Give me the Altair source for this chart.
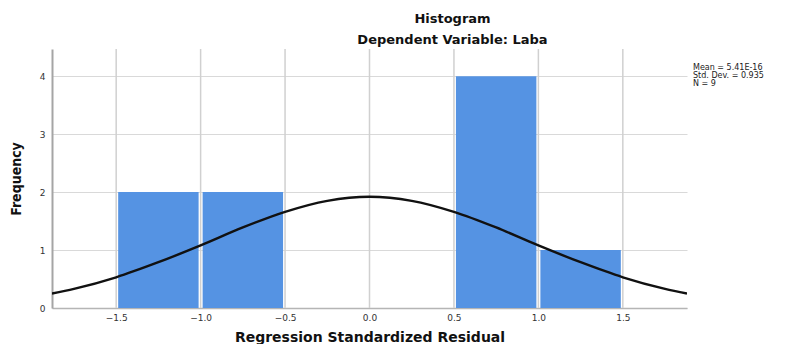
import altair as alt
import pandas as pd

# Histogram bins
bin_start = [-1.5, -1.0, -0.5, 0.0, 0.5, 1.0]
bin_end = [-1.0, -0.5, 0.0, 0.5, 1.0, 1.5]
freq = [2, 2, 0, 0, 4, 1]

# Normal curve points
curve_x = [-1.88, -1.75, -1.5, -1.25, -1.0, -0.75, -0.5, -0.25, 0.0,
           0.25, 0.5, 0.75, 1.0, 1.25, 1.5, 1.75, 1.88]
curve_y = [0.25, 0.33, 0.53, 0.79, 1.08, 1.39, 1.66, 1.85, 1.92,
           1.85, 1.66, 1.39, 1.08, 0.79, 0.53, 0.33, 0.25]

x_ticks = [-1.5, -1.0, -0.5, 0.0, 0.5, 1.0, 1.5]
y_ticks = [0, 1, 2, 3, 4]
stats_text = "Mean = 5.41E-16\nStd. Dev. = 0.935\nN = 9"

bars_df = pd.DataFrame({"start": bin_start, "end": bin_end, "freq": freq})
bars_df = bars_df[bars_df["freq"] > 0]
curve_df = pd.DataFrame({"x": curve_x, "y": curve_y})
grid_df = pd.DataFrame({"t": x_ticks})

XDOM = [-1.88, 1.88]
YDOM = [0, 4.47]
LABEL_FONT = "DejaVu Sans"
NARROW_FONT = "'Liberation Sans Narrow', 'DejaVu Sans Condensed', 'Liberation Sans', sans-serif"

xscale = alt.Scale(domain=XDOM, nice=False, zero=False)
yscale = alt.Scale(domain=YDOM, nice=False)

bars = alt.Chart(bars_df).mark_bar(
    color="#5593E3", xOffset=2, x2Offset=-2
).encode(
    x=alt.X("start:Q", scale=xscale, axis=alt.Axis(
        values=x_ticks, format=".1f", grid=False, ticks=False,
        domainColor="#b5b5b5", domainWidth=1.6,
        labelFont=LABEL_FONT, labelFontSize=9, labelColor="#333333",
        labelPadding=5,
        title="Regression Standardized Residual",
        titleFont=LABEL_FONT, titleFontSize=14, titleFontWeight="bold",
        titleColor="#111111", titleBaseline="alphabetic", titleY=33,
    )),
    x2="end:Q",
    y=alt.Y("freq:Q", scale=yscale, axis=alt.Axis(
        values=y_ticks, format="d", grid=True, gridColor="#d9d9d9",
        gridWidth=1.2, ticks=False, domainColor="#a5a5a5", domainWidth=2,
        labelFont=LABEL_FONT, labelFontSize=9, labelColor="#333333",
        labelPadding=7,
        title="Frequency",
        titleFont=NARROW_FONT, titleFontSize=14,
        titleFontWeight="bold", titleColor="#111111",
        titleAngle=270, titleX=-36, titleY=129.5, titleAlign="center",
        titleBaseline="middle",
    )),
    y2=alt.datum(0),
)

vgrid = alt.Chart(grid_df).mark_rule(color="#d0d0d0", strokeWidth=1.5).encode(
    x=alt.X("t:Q", scale=xscale)
)

curve = alt.Chart(curve_df).mark_line(
    color="#111111", strokeWidth=2.4, interpolate="monotone", clip=True
).encode(
    x=alt.X("x:Q", scale=xscale),
    y=alt.Y("y:Q", scale=yscale),
)

stats = alt.Chart(pd.DataFrame({"s": [stats_text]})).mark_text(
    align="left", baseline="alphabetic", font=LABEL_FONT, fontSize=8,
    lineBreak="\n", lineHeight=8, color="#222222"
).encode(
    x=alt.value(641), y=alt.value(21), text="s:N"
)

chart = alt.layer(bars, vgrid, curve, stats).properties(
    width=635,
    height=259,
    title=alt.Title(
        "Histogram", subtitle="Dependent Variable: Laba",
        font=LABEL_FONT, fontSize=13, fontWeight="bold", color="#111111",
        subtitleFont=LABEL_FONT, subtitleFontSize=13,
        subtitleFontWeight="bold", subtitleColor="#111111",
        anchor="middle", dx=83, offset=1, subtitlePadding=8,
    ),
    autosize=alt.AutoSizeParams(type="none"),
    padding={"left": 44, "top": 41, "right": 90, "bottom": 36},
).configure_view(stroke=None)

chart.save("out.html", embed_options={"renderer": "svg", "actions": False})
